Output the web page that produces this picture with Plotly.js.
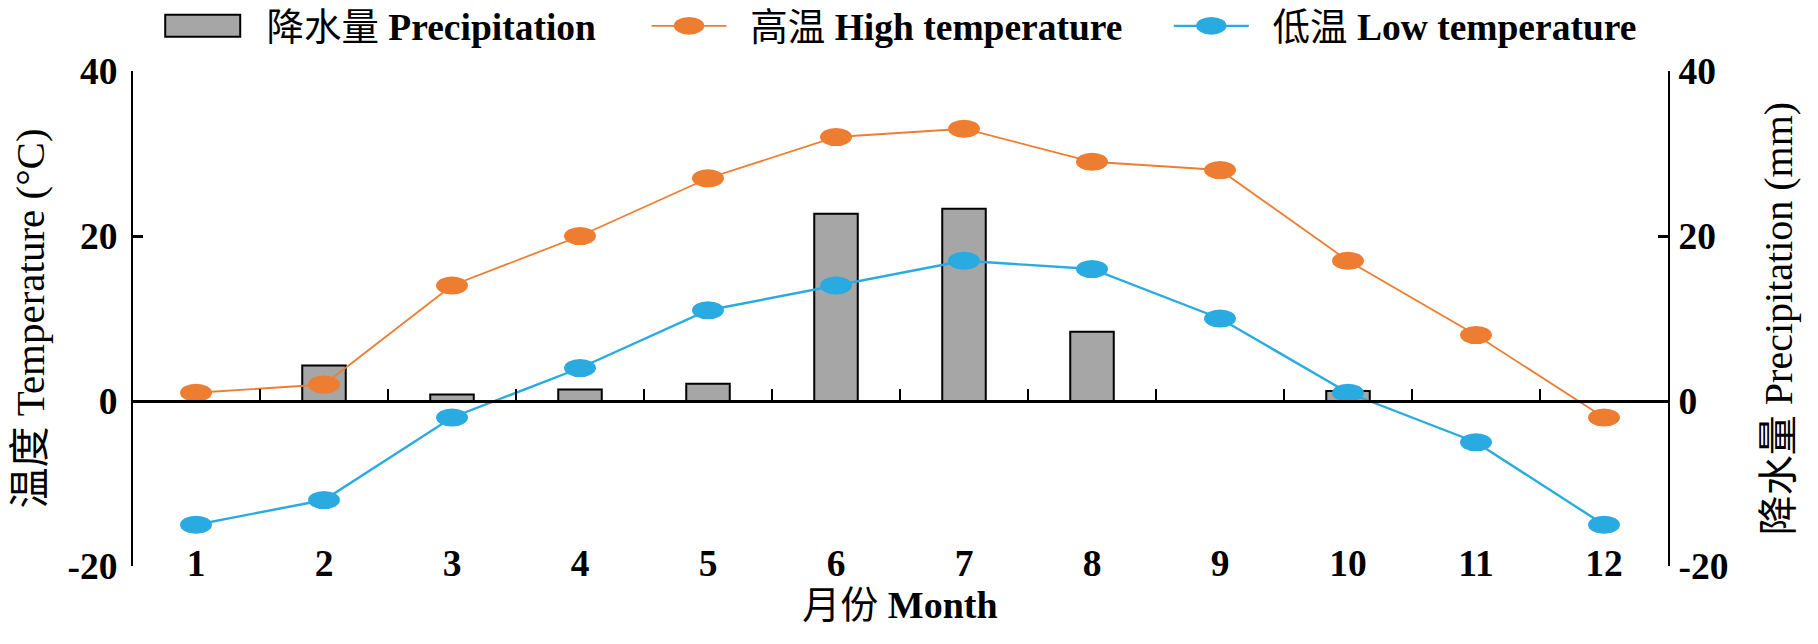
<!DOCTYPE html>
<html>
<head>
<meta charset="utf-8">
<script src="https://cdn.plot.ly/plotly-3.0.1.min.js"></script>
<style>
html, body { margin: 0; padding: 0; background: #ffffff; }
#chart { width: 1818px; height: 644px; }
</style>
</head>
<body>
<div id="chart"></div>
<script>
// ---- data ----
const months = [1, 2, 3, 4, 5, 6, 7, 8, 9, 10, 11, 12];
const monthLabels = ['1', '2', '3', '4', '5', '6', '7', '8', '9', '10', '11', '12'];
const highTemp = [1, 2, 14, 20, 27, 32, 33, 29, 28, 17, 8, -2];
const lowTemp = [-15, -12, -2, 4, 11, 14, 17, 16, 10, 1, -5, -15];
const precipitation = [0, 4.3, 0.8, 1.4, 2.1, 22.7, 23.3, 8.4, 0, 1.2, 0, 0];
const tempTicks = [-20, 0, 20, 40];
const tempTickLabels = ['-20', '0', '20', '40'];
const precipTicks = [-20, 0, 20, 40];
const precipTickLabels = ['-20', '0', '20', '40'];
const monthBoundaries = [1.5, 2.5, 3.5, 4.5, 5.5, 6.5, 7.5, 8.5, 9.5, 10.5, 11.5];

const seriesNames = {
  precip: '\u00a0\u00a0降水量 <b>Precipitation</b>',
  high: '\u00a0\u00a0高温 <b>High temperature</b>',
  low: '\u00a0\u00a0低温 <b>Low temperature</b>'
};

const FONT = '"Liberation Serif", "Times New Roman", "Noto Sans CJK SC", serif';
const ORANGE = '#ED7D31';
const BLUE = '#29ABE2';
const GREY = '#A6A6A6';

const traces = [
  {
    type: 'bar', name: seriesNames.precip, x: months, y: precipitation,
    xaxis: 'x', yaxis: 'y', width: 0.34,
    marker: { color: GREY, line: { color: '#000000', width: 2 } },
    legend: 'legend'
  },
  {
    type: 'scatter', mode: 'lines+markers', name: seriesNames.high, x: months, y: highTemp,
    xaxis: 'x2', yaxis: 'y2',
    line: { color: ORANGE, width: 1.8 },
    marker: { color: ORANGE, size: 24 },
    legend: 'legend2'
  },
  {
    type: 'scatter', mode: 'lines+markers', name: seriesNames.low, x: months, y: lowTemp,
    xaxis: 'x2', yaxis: 'y2',
    line: { color: BLUE, width: 2.4 },
    marker: { color: BLUE, size: 24 },
    legend: 'legend3'
  }
];

const legendBase = {
  orientation: 'h', yanchor: 'middle', xanchor: 'left', y: 1.091,
  font: { family: FONT, size: 37.5, color: '#000' },
  itemwidth: 75, bgcolor: 'rgba(0,0,0,0)', borderwidth: 0,
  itemclick: false, itemdoubleclick: false
};

const tickFont = { family: FONT, size: 37.5, color: '#000', weight: 'bold' };

const layout = {
  width: 1818, height: 644,
  margin: { l: 132, r: 150, t: 71, b: 78, autoexpand: false },
  paper_bgcolor: '#ffffff', plot_bgcolor: '#ffffff',
  font: { family: FONT, size: 38, color: '#000000' },
  bargap: 0,
  xaxis: {
    range: [0.5, 12.5], anchor: 'free', position: 0.057,
    tickvals: months, ticktext: monthLabels,
    showline: false, ticks: '', showgrid: false, zeroline: false,
    tickfont: tickFont,
    title: { text: '月份 <b>Month</b>', font: { family: FONT, size: 38, color: '#000' }, standoff: 3 }
  },
  xaxis2: {
    overlaying: 'x', range: [0.5, 12.5], anchor: 'free', position: 1 / 3, side: 'bottom',
    showline: true, linecolor: '#000', linewidth: 3,
    ticks: 'inside', tickvals: monthBoundaries, ticklen: 11, tickwidth: 2, tickcolor: '#000',
    showticklabels: false, showgrid: false, zeroline: false
  },
  yaxis: {
    range: [-20, 40], side: 'right', anchor: 'x',
    tickvals: precipTicks, ticktext: precipTickLabels,
    showline: true, linecolor: '#000', linewidth: 2,
    ticks: 'inside', ticklen: 10, tickwidth: 3, tickcolor: '#000',
    showgrid: false, zeroline: false,
    ticklabelstandoff: 1,
    tickfont: tickFont,
    title: { text: '降水量 Precipitation (mm)', font: { family: FONT, size: 40, color: '#000' }, standoff: 36 }
  },
  yaxis2: {
    overlaying: 'y', range: [-20, 40], side: 'left', anchor: 'free', position: 0,
    tickvals: tempTicks, ticktext: tempTickLabels,
    showline: true, linecolor: '#000', linewidth: 2,
    ticks: 'inside', ticklen: 10, tickwidth: 3, tickcolor: '#000',
    showgrid: false, zeroline: false,
    ticklabelstandoff: 6,
    tickfont: tickFont,
    title: { text: '温度 Temperature (°C)', font: { family: FONT, size: 41, color: '#000' }, standoff: 9 }
  },
  legend: Object.assign({}, legendBase, { x: 0.02 }),
  legend2: Object.assign({}, legendBase, { x: 0.335 }),
  legend3: Object.assign({}, legendBase, { x: 0.675 }),
  showlegend: true
};

function restyleSymbols(gd) {
  // long rectangular swatch for the bar legend entry, as in the reference
  gd.querySelectorAll('g.legendpoints path').forEach(function (p) {
    const d = (p.getAttribute('d') || '').replace(/\s/g, '');
    if (d === 'M6,6H-6V-6H6Z') p.setAttribute('d', 'M35,11H-40V-11H35Z');
  });
  // oval markers (wider than tall) as in the reference
  gd.querySelectorAll('.scatterlayer path.point').forEach(function (p) {
    const t = p.getAttribute('transform') || '';
    if (t.indexOf('scale') === -1) p.setAttribute('transform', t + ' scale(1.33,0.76)');
  });
  gd.querySelectorAll('.legendpoints path.scatterpts').forEach(function (p) {
    const t = p.getAttribute('transform') || '';
    if (t.indexOf('scale') === -1) p.setAttribute('transform', t + ' scale(1.9,1.1)');
  });
}

Plotly.newPlot('chart', traces, layout, { staticPlot: true, displayModeBar: false }).then(function (gd) {
  restyleSymbols(gd);
  gd.on('plotly_afterplot', function () { restyleSymbols(gd); });
  setTimeout(function () { restyleSymbols(gd); }, 50);
});
</script>
</body>
</html>
